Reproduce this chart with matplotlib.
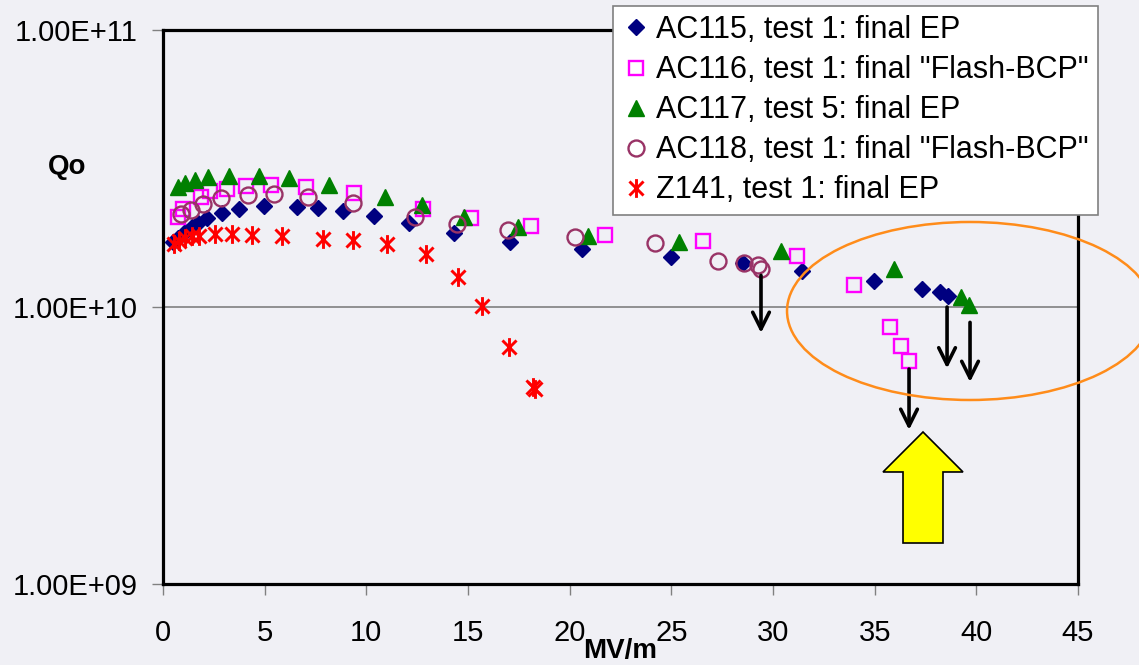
import numpy as np
import matplotlib
matplotlib.use('Agg')
import matplotlib.pyplot as plt
from matplotlib.path import Path
from matplotlib.patches import Ellipse, FancyArrow
from matplotlib.ticker import FuncFormatter, FixedLocator, NullLocator

plt.rcParams['font.family'] = ['Liberation Sans', 'DejaVu Sans']

# ------------------------------------------------------------------
# datos (Eacc en MV/m, Qo)
# ------------------------------------------------------------------
ac115_e = [0.49, 0.74, 1.08, 1.43, 1.72, 2.16, 2.90, 3.74, 4.97, 6.59, 7.62, 8.85,
           10.38, 12.10, 14.31, 17.07, 20.61, 24.99, 28.53, 31.43, 34.97, 37.33,
           38.22, 38.61]
ac115_q = [1.72e10, 1.78e10, 1.87e10, 1.95e10, 2.01e10, 2.10e10, 2.19e10, 2.26e10,
           2.32e10, 2.30e10, 2.28e10, 2.22e10, 2.13e10, 2.01e10, 1.85e10, 1.72e10,
           1.62e10, 1.52e10, 1.44e10, 1.35e10, 1.24e10, 1.16e10, 1.13e10, 1.10e10]

ac116_e = [0.74, 0.98, 1.87, 2.31, 3.15, 4.08, 5.31, 7.03, 9.39, 12.79, 15.15,
           18.10, 21.74, 26.56, 31.19, 33.99, 35.76, 36.30, 36.69]
ac116_q = [2.11e10, 2.26e10, 2.50e10, 2.62e10, 2.67e10, 2.73e10, 2.76e10, 2.71e10,
           2.58e10, 2.26e10, 2.10e10, 1.96e10, 1.82e10, 1.73e10, 1.53e10, 1.20e10,
           8.47e9, 7.23e9, 6.38e9]

ac117_e = [0.74, 1.08, 1.57, 2.21, 3.25, 4.72, 6.20, 8.17, 10.92, 12.74, 14.81,
           17.46, 20.90, 25.38, 30.40, 35.96, 39.25, 39.65]
ac117_q = [2.71e10, 2.80e10, 2.87e10, 2.95e10, 2.97e10, 2.97e10, 2.92e10, 2.76e10,
           2.50e10, 2.34e10, 2.11e10, 1.95e10, 1.80e10, 1.72e10, 1.59e10, 1.37e10,
           1.09e10, 1.02e10]

ac118_e = [0.89, 1.38, 1.97, 2.85, 4.18, 5.46, 7.13, 9.35, 12.40, 14.46, 16.97,
           20.27, 24.20, 27.30, 28.58, 29.27, 29.41]
ac118_q = [2.17e10, 2.24e10, 2.35e10, 2.48e10, 2.54e10, 2.56e10, 2.50e10, 2.37e10,
           2.11e10, 1.99e10, 1.90e10, 1.79e10, 1.70e10, 1.47e10, 1.44e10, 1.42e10,
           1.37e10]

z141_e = [0.54, 0.79, 1.08, 1.43, 1.77, 2.56, 3.39, 4.38, 5.85, 7.87, 9.35, 11.02,
          12.94, 14.51, 15.69, 17.02, 18.20, 18.30]
z141_q = [1.69e10, 1.73e10, 1.78e10, 1.80e10, 1.80e10, 1.83e10, 1.83e10, 1.82e10,
          1.80e10, 1.76e10, 1.75e10, 1.69e10, 1.55e10, 1.28e10, 1.01e10, 7.17e9,
          5.15e9, 5.05e9]

# flechas de limitacion
arrow_e = [29.41, 38.56, 39.69, 36.69]
arrow_from = [1.30e10, 1.00e10, 8.8e9, 5.97e9]
arrow_to = [8.06e9, 6.0e9, 5.36e9, 3.6e9]

labels = ['AC115, test 1: final EP',
          'AC116, test 1: final "Flash-BCP"',
          'AC117, test 5: final EP',
          'AC118, test 1: final "Flash-BCP"',
          'Z141, test 1: final EP']

x_ticks = [0, 5, 10, 15, 20, 25, 30, 35, 40, 45]
y_ticks = [1e9, 1e10, 1e11]

BG = '#F0F0F5'

# asterisco tipo Excel (vertical + X)
asterisk = Path([(0, -1), (0, 1), (-0.75, -0.75), (0.75, 0.75), (-0.75, 0.75), (0.75, -0.75)],
                [Path.MOVETO, Path.LINETO] * 3)

# ------------------------------------------------------------------
# figura
# ------------------------------------------------------------------
fig = plt.figure(figsize=(11.39, 6.65), dpi=100, facecolor=BG)
ax = fig.add_axes([163 / 1139, 81 / 665, 915 / 1139, 554 / 665])
ax.set_facecolor(BG)

ax.plot(ac115_e, ac115_q, ls='none', marker='D', ms=8.4, color='#000080', label=labels[0], zorder=3)
ax.plot(ac116_e, ac116_q, ls='none', marker='s', ms=10.5, mfc='none', mec='#FF00FF', mew=1.7,
        label=labels[1], zorder=3)
ax.plot(ac117_e, ac117_q, ls='none', marker='^', ms=11.5, color='#008000', label=labels[2], zorder=3)
ax.plot(ac118_e, ac118_q, ls='none', marker='o', ms=11.5, mfc='none', mec='#993366', mew=1.7,
        label=labels[3], zorder=3)
ax.plot(z141_e, z141_q, ls='none', marker=asterisk, ms=13.5, mfc='none', mec='#FF0000', mew=2.1,
        label=labels[4], zorder=3)

# flechas negras
for e, q0, q1 in zip(arrow_e, arrow_from, arrow_to):
    ax.annotate('', xy=(e, q1), xytext=(e, q0),
                arrowprops=dict(arrowstyle='->,head_length=1.2,head_width=0.6',
                                lw=2.6, color='black', shrinkA=0, shrinkB=0),
                zorder=4)

# elipse naranja y flecha amarilla
ax.add_patch(Ellipse((0.882, 0.4928), 0.4, 0.3213, transform=ax.transAxes, fill=False,
                     edgecolor='#FF8C1A', lw=1.8, clip_on=False, zorder=4))
ax.add_patch(FancyArrow(0.8306, 0.074, 0, 0.2004, width=0.0437, head_width=0.0874,
                        head_length=0.0722, length_includes_head=True,
                        transform=ax.transAxes, facecolor='#FFFF00', edgecolor='black',
                        lw=1.2, zorder=4))

# ejes
ax.set_yscale('log')
ax.set_xlim(0, 45)
ax.set_ylim(1e9, 1e11)
ax.xaxis.set_major_locator(FixedLocator(x_ticks))
ax.yaxis.set_major_locator(FixedLocator(y_ticks))
ax.yaxis.set_minor_locator(NullLocator())
ax.yaxis.set_major_formatter(FuncFormatter(lambda v, p: f'{v:.2E}'))
ax.tick_params(axis='both', direction='out', length=8, width=1, color='#808080',
               labelsize=21, labelcolor='black')
ax.tick_params(axis='x', pad=17)
ax.tick_params(axis='y', pad=10)
ax.yaxis.grid(True, color='#808080', lw=1.2)
ax.set_axisbelow(True)
for s in ax.spines.values():
    s.set_linewidth(2.3)
    s.set_color('black')

fig.text(0.5 * (163 + 1078) / 1139, 1 / 665, 'MV/m', fontsize=20, fontweight='bold',
         ha='center', va='bottom')
fig.text(67 / 1139, 1 - 167 / 665, 'Qo', fontsize=20, fontweight='bold', ha='center', va='center')

leg = ax.legend(loc='upper right', bbox_to_anchor=(1098 / 1139, 1 - 6 / 665),
                bbox_transform=fig.transFigure, borderaxespad=0, fontsize=22,
                labelspacing=0.33, handlelength=0.9, handletextpad=0.2, borderpad=0.3,
                fancybox=False, framealpha=1, edgecolor='#808080', numpoints=1)
leg.get_frame().set_linewidth(1.2)
leg.set_zorder(10)

plt.savefig('out.png', dpi=100, facecolor=BG)
